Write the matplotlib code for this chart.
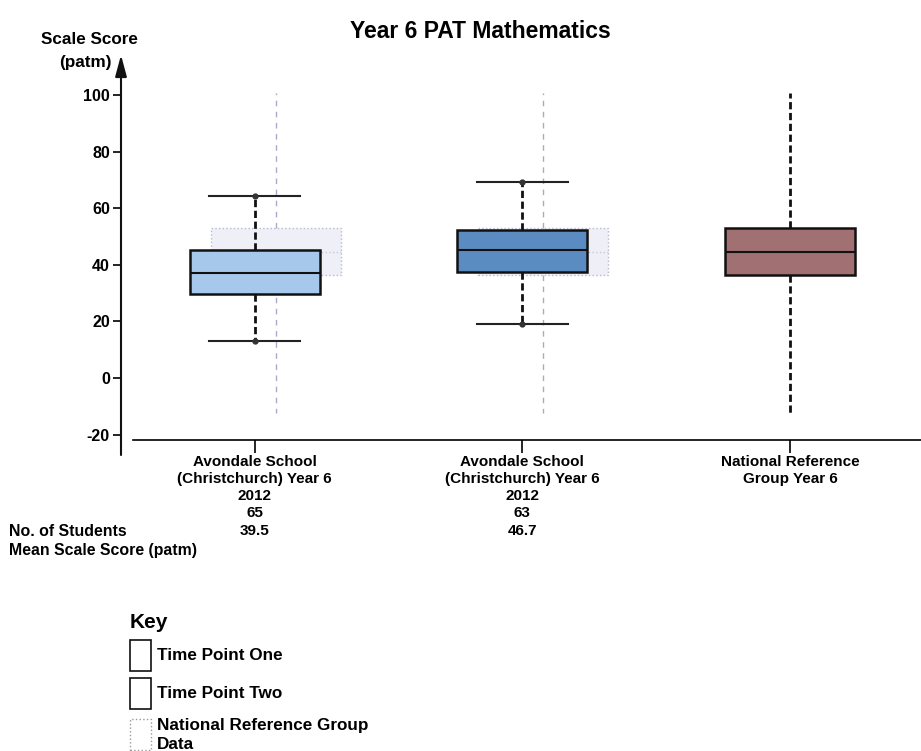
import matplotlib
matplotlib.use("Agg")
import matplotlib.pyplot as plt
from matplotlib.patches import Rectangle

plt.rcParams["font.family"] = ["Liberation Sans", "DejaVu Sans"]
plt.rcParams["font.weight"] = "bold"

# ---- data ----
groups = ["Avondale School\n(Christchurch) Year 6\n2012\n65\n39.5",
          "Avondale School\n(Christchurch) Year 6\n2012\n63\n46.7",
          "National Reference\nGroup Year 6"]
q1 = [29.7, 37.5, 36.4]
med = [37.1, 45.2, 44.5]
q3 = [45.2, 52.3, 53.0]
whislo = [13.1, 19.1, -12.4]
whishi = [64.3, 69.3, 100.7]
colors = ["#a6c8ea", "#5a8cc2", "#a07073"]
yticks = [-20, 0, 20, 40, 60, 80, 100]
key_labels = ["Time Point One", "Time Point Two", "National Reference Group\nData"]

W, H = 921, 751
fig = plt.figure(figsize=(W / 100, H / 100), dpi=100)
ax = fig.add_axes([121 / W, (H - 440) / H, 800 / W, (440 - 55) / H])
ax.set_xlim(0.5, 3.49)
ax.set_ylim(-21.9, 114.1)

def stat(i):
    return dict(q1=q1[i], med=med[i], q3=q3[i], whislo=whislo[i], whishi=whishi[i], fliers=[])

pos = [1, 2, 3]
width = 0.486
ghost_off = 0.079
dash = (0, (2.6, 1.3))

# ---- national reference "ghost" boxes behind the school boxes ----
nat = stat(2)
for p in pos[:2]:
    ax.bxp([nat], positions=[p + ghost_off], widths=width, patch_artist=True,
           showcaps=False, manage_ticks=False,
           boxprops=dict(facecolor="#efeff8", edgecolor="#b9b9cf", lw=1.0, ls=":"),
           medianprops=dict(color="#c8c8dc", lw=1.0, ls=":"),
           whiskerprops=dict(color="#a9a9c9", lw=1.0, ls=(0, (4, 4))),
           zorder=1)

# ---- main boxes ----
for i, p in enumerate(pos):
    ax.bxp([stat(i)], positions=[p], widths=width, patch_artist=True,
           showcaps=(i < 2), manage_ticks=False,
           boxprops=dict(facecolor=colors[i], edgecolor="#111111", lw=1.8),
           medianprops=dict(color="#111111", lw=1.5),
           whiskerprops=dict(color="#111111", lw=2.0, ls=dash),
           capprops=dict(color="#222222", lw=1.5), capwidths=0.34,
           zorder=3)
    if i < 2:
        ax.plot([p, p], [whislo[i], whishi[i]], ls="none", marker="o", ms=3.5,
                color="#333333", zorder=4)

# ---- axes styling ----
for s in ["top", "right", "left"]:
    ax.spines[s].set_visible(False)
ax.spines["bottom"].set_bounds(0.545, 3.49)
ax.spines["bottom"].set_linewidth(1.2)
ax.annotate("", xy=(0.5, 114.1), xytext=(0.5, -27.2),
            arrowprops=dict(arrowstyle="-|>,head_width=0.35,head_length=1.3",
                            color="#111111", lw=1.5, shrinkA=0, shrinkB=0),
            annotation_clip=False)

ax.set_yticks(yticks)
ax.set_yticklabels([str(v) for v in yticks])
ax.tick_params(axis="y", direction="out", length=6, width=1.2, pad=2, labelsize=11.5)
ax.set_xticks(pos)
ax.set_xticklabels(groups, linespacing=1.3)
ax.tick_params(axis="x", direction="out", length=9, width=1.2, pad=1.5, labelsize=11)

fig.text(480 / W, 1 - 31 / H, "Year 6 PAT Mathematics", ha="center", va="center",
         fontsize=16.5, fontweight="bold")
fig.text(89 / W, 1 - 40 / H, "Scale Score", ha="center", va="center",
         fontsize=12.3, fontweight="bold")
fig.text(85 / W, 1 - 62 / H, "(patm)", ha="center", va="center",
         fontsize=12.3, fontweight="bold")
fig.text(9 / W, 1 - 531 / H, "No. of Students", ha="left", va="center", fontsize=11.4)
fig.text(9 / W, 1 - 550 / H, "Mean Scale Score (patm)", ha="left", va="center", fontsize=11.4)

# ---- key ----
fig.text(130 / W, 1 - 623 / H, "Key", ha="left", va="center", fontsize=15)
key_y = [640, 678, 719]
key_styles = [dict(ec="#111111", lw=1.2, ls="-"),
              dict(ec="#111111", lw=1.2, ls="-"),
              dict(ec="#999999", lw=1.0, ls=":")]
key_text_y = [655, 693, 735]
for ky, ty, lab, st in zip(key_y, key_text_y, key_labels, key_styles):
    fig.patches.append(Rectangle((130 / W, 1 - (ky + 31) / H), 21 / W, 31 / H,
                                 transform=fig.transFigure, fc="white", **st))
    fig.text(157 / W, 1 - ty / H, lab, ha="left", va="center",
             fontsize=12.3, linespacing=1.3)

fig.savefig("out.png", dpi=100)
